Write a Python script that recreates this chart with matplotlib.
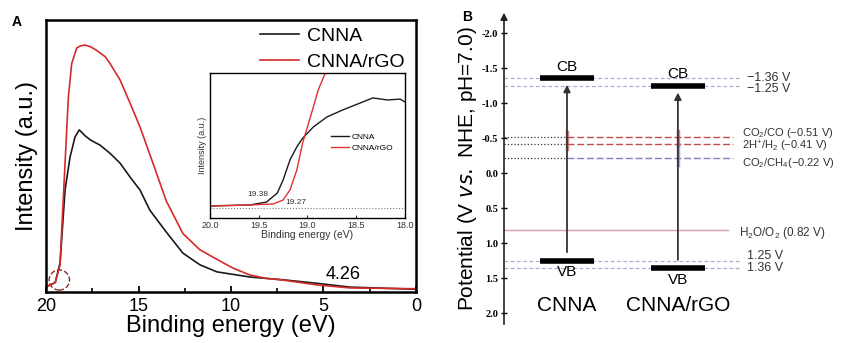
import matplotlib
matplotlib.use("Agg")
import matplotlib.pyplot as plt
from matplotlib.patches import Ellipse

plt.rcParams['font.family'] = ['Liberation Sans', 'DejaVu Sans']
plt.rcParams['mathtext.default'] = 'regular'

# panel A: UPS spectra
energy_red = [20.0, 19.5, 19.24, 19.15, 18.97, 18.79, 18.61, 18.34, 18.16, 17.9, 17.6, 17.3,
              17.08, 16.8, 16.54, 16.0, 15.46, 14.92, 14.2, 13.5, 12.6, 11.68, 10.76, 9.9,
              9.0, 8.1, 7.2, 5.35, 3.57, 0.0]
int_red = [1.8, 3.5, 10.0, 22.8, 47.4, 71.8, 84.0, 89.7, 90.4, 90.8, 90.2, 89.0,
           87.9, 86.5, 84.0, 78.0, 69.5, 60.7, 47.0, 33.5, 21.5, 15.5, 12.0, 8.8,
           6.3, 5.0, 4.4, 2.6, 1.5, 1.2]
energy_blk = [20.0, 19.5, 19.24, 18.97, 18.7, 18.43, 18.2, 17.9, 17.6, 17.08, 16.54, 16.0,
              15.46, 14.92, 14.38, 13.46, 12.6, 11.68, 10.76, 8.97, 7.2, 5.35, 3.57, 0.0]
int_blk = [1.8, 3.5, 10.7, 37.5, 49.6, 57.0, 59.6, 57.5, 55.9, 54.0, 51.0, 47.4,
           42.3, 37.5, 30.0, 21.7, 14.3, 10.0, 7.4, 5.5, 4.5, 3.2, 1.8, 1.0]

# inset: onset region
ins_e_red = [20.0, 19.59, 19.35, 19.25, 19.18, 19.11, 19.05, 18.97, 18.89, 18.78]
ins_i_red = [8.3, 9.0, 9.7, 12.4, 19.3, 33.0, 51.7, 69.7, 88.3, 106.0]
ins_e_blk = [20.0, 19.59, 19.42, 19.31, 19.25, 19.18, 19.11, 19.05, 18.94, 18.8, 18.64,
             18.46, 18.33, 18.18, 18.05, 18.0]
ins_i_blk = [8.3, 9.0, 11.0, 17.2, 26.2, 40.0, 49.0, 55.0, 62.8, 69.7, 74.5,
             79.3, 82.8, 81.4, 82.0, 80.0]

# panel B: band positions (V vs NHE)
samples = ['CNNA', 'CNNA/rGO']
cb = [-1.36, -1.25]
vb = [1.25, 1.36]
redox_names = [r'CO$_2$/CO ($-$0.51 V)', r'2H$^{+}$/H$_2$ ($-$0.41 V)', r'CO$_2$/CH$_4$($-$0.22 V)']
redox_vals = [-0.51, -0.41, -0.22]
water_name = r'H$_2$O/O$_2$ (0.82 V)'
water_val = 0.82

W, H = 854, 343
fig = plt.figure(figsize=(W / 100, H / 100), dpi=100)


def px_axes(x0, y0, x1, y1):
    return fig.add_axes([x0 / W, 1 - y1 / H, (x1 - x0) / W, (y1 - y0) / H])


# ---- panel A
ax = px_axes(46, 20, 416, 292)
ax.plot(energy_blk, int_blk, color='#1a1a1a', lw=1.2, label='CNNA')
ax.plot(energy_red, int_red, color='#d62a2a', lw=1.2, label='CNNA/rGO')
ax.set_xlim(20, 0)
ax.set_ylim(0, 100)
ax.set_yticks([])
ax.set_xticks([20, 15, 10, 5, 0])
ax.set_xticks([17.5, 12.5, 7.5, 2.5], minor=True)
ax.tick_params(axis='x', direction='in', labelsize=13, length=4, width=1.3, pad=4)
ax.tick_params(axis='x', which='minor', direction='in', length=3, width=1.2)
for s in ax.spines.values():
    s.set_linewidth(1.8)
ax.set_xlabel('Binding energy (eV)', fontsize=17, labelpad=0)
ax.set_ylabel('Intensity (a.u.)', fontsize=17, labelpad=6)
ax.legend(loc='upper right', bbox_to_anchor=(1.0, 1.015), frameon=False, fontsize=14,
          handlelength=2.0, handletextpad=0.4, labelspacing=0.4, borderaxespad=0.2)
ax.text(4.9, 4.6, '4.26', fontsize=13)
ax.add_patch(Ellipse((19.28, 4.4), 1.1, 7.4, fill=False, ls='--', lw=1, color='#8b2a2a'))
fig.text(12 / W, 1 - 22 / H, 'A', fontsize=10, fontweight='bold', va='center')

# inset
ins = px_axes(210, 73, 405, 218)
ins.plot(ins_e_blk, ins_i_blk, color='#1a1a1a', lw=1, label='CNNA')
ins.plot(ins_e_red, ins_i_red, color='#e03030', lw=1, label='CNNA/rGO')
ins.axhline(6.9, color='#777777', ls=':', lw=0.8)
ins.set_xlim(20.0, 18.0)
ins.set_ylim(0, 100)
ins.set_yticks([])
ins.set_xticks([20.0, 19.5, 19.0, 18.5, 18.0])
ins.set_xticklabels(['20.0', '19.5', '19.0', '18.5', '18.0'])
ins.tick_params(axis='x', direction='in', labelsize=6.5, length=2, pad=2, colors='#333333')
ins.set_xlabel('Binding energy (eV)', fontsize=7.5, labelpad=0, color='#333333')
ins.set_ylabel('Intensity (a.u.)', fontsize=6.5, labelpad=2, color='#333333')
ins.legend(loc='center right', bbox_to_anchor=(0.98, 0.52), frameon=False, fontsize=6,
           handlelength=2.2, handletextpad=0.3, labelspacing=0.3)
ins.text(19.62, 15.0, '19.38', fontsize=6, color='#333333')
ins.text(19.23, 9.5, '19.27', fontsize=6, color='#333333')
for s in ins.spines.values():
    s.set_linewidth(1.0)

# ---- panel B
bx = px_axes(504, 10, 740, 327)
bx.set_xlim(0.432, 2.56)
bx.set_ylim(2.2, -2.33)
for k in ['top', 'right', 'bottom', 'left']:
    bx.spines[k].set_visible(False)
bx.set_xticks([])
bx.set_yticks([-2.0, -1.5, -1.0, -0.5, 0.0, 0.5, 1.0, 1.5, 2.0])
bx.set_yticklabels(['-2.0', '-1.5', '-1.0', '-0.5', '0.0', '0.5', '1.0', '1.5', '2.0'],
                   family=['Liberation Serif', 'DejaVu Serif'], fontweight='bold')
bx.tick_params(axis='y', direction='inout', length=4, width=1, labelsize=7.5, pad=2)
bx.annotate('', xy=(0, 1.0), xytext=(0, 0.0), xycoords='axes fraction',
            arrowprops=dict(arrowstyle='-|>', color='#222222', lw=1.2, mutation_scale=10))
bx.set_ylabel('Potential (V $\\it{vs.}$ NHE, pH=7.0)', fontsize=15, labelpad=2)
fig.text(462 / W, 1 - 17 / H, 'B', fontsize=10, fontweight='bold', va='center')

xpos = [1, 2]
band_col = '#a7b0d4'
for lvl in [cb[0], cb[1], vb[0], vb[1]]:
    bx.axhline(lvl, color=band_col, ls=(0, (3, 2)), lw=0.9, zorder=1)
redox_cols = ['#c0504d', '#c0504d', '#8e7cc3']
for val, col in zip(redox_vals, redox_cols):
    bx.plot([0.432, 1.0], [val, val], color='#333333', ls=':', lw=0.9, zorder=1)
    bx.plot([1.0, 2.5], [val, val], color=col, ls=(0, (5, 2)), lw=1.0, zorder=1)
bx.plot([0.432, 2.45], [water_val, water_val], color='#d9a0a8', lw=1.0, zorder=1)

# colored marks where arrows cross redox levels
bx.plot([1, 1], [-0.59, -0.35], color='#c0504d', lw=2.5, alpha=0.7, zorder=2)
bx.plot([2, 2], [-0.6, -0.4], color='#b05a5a', lw=2.5, alpha=0.7, zorder=2)
bx.plot([2, 2], [-0.4, -0.12], color='#8e7cc3', lw=2.5, alpha=0.7, zorder=2)

for x, c, v, name in zip(xpos, cb, vb, samples):
    bx.annotate('', xy=(x, c + 0.06), xytext=(x, v - 0.08),
                arrowprops=dict(arrowstyle='-|>', color='#333333', lw=1.3, mutation_scale=10),
                zorder=3)
    bx.hlines([c, v], x - 0.24, x + 0.24, color='black', lw=4, zorder=4)
    bx.text(x, c - 0.06, 'CB', ha='center', va='bottom', fontsize=11)
    bx.text(x, v + 0.07, 'VB', ha='center', va='top', fontsize=11)
    bx.text(x, 1.89, name, ha='center', va='center', fontsize=15)

tcol = '#333333'
bx.text(2.62, -1.357, '\u22121.36 V', fontsize=9, va='center', color=tcol)
bx.text(2.62, -1.2, '\u22121.25 V', fontsize=9, va='center', color=tcol)
for txt, yv in zip(redox_names, [-0.57, -0.38, -0.15]):
    bx.text(2.58, yv, txt, fontsize=8, va='center', color=tcol)
bx.text(2.55, 0.85, water_name, fontsize=8.5, va='center', color=tcol)
bx.text(2.62, 1.19, '1.25 V', fontsize=9, va='center', color=tcol)
bx.text(2.62, 1.36, '1.36 V', fontsize=9, va='center', color=tcol)

fig.savefig('out.png', dpi=100)
